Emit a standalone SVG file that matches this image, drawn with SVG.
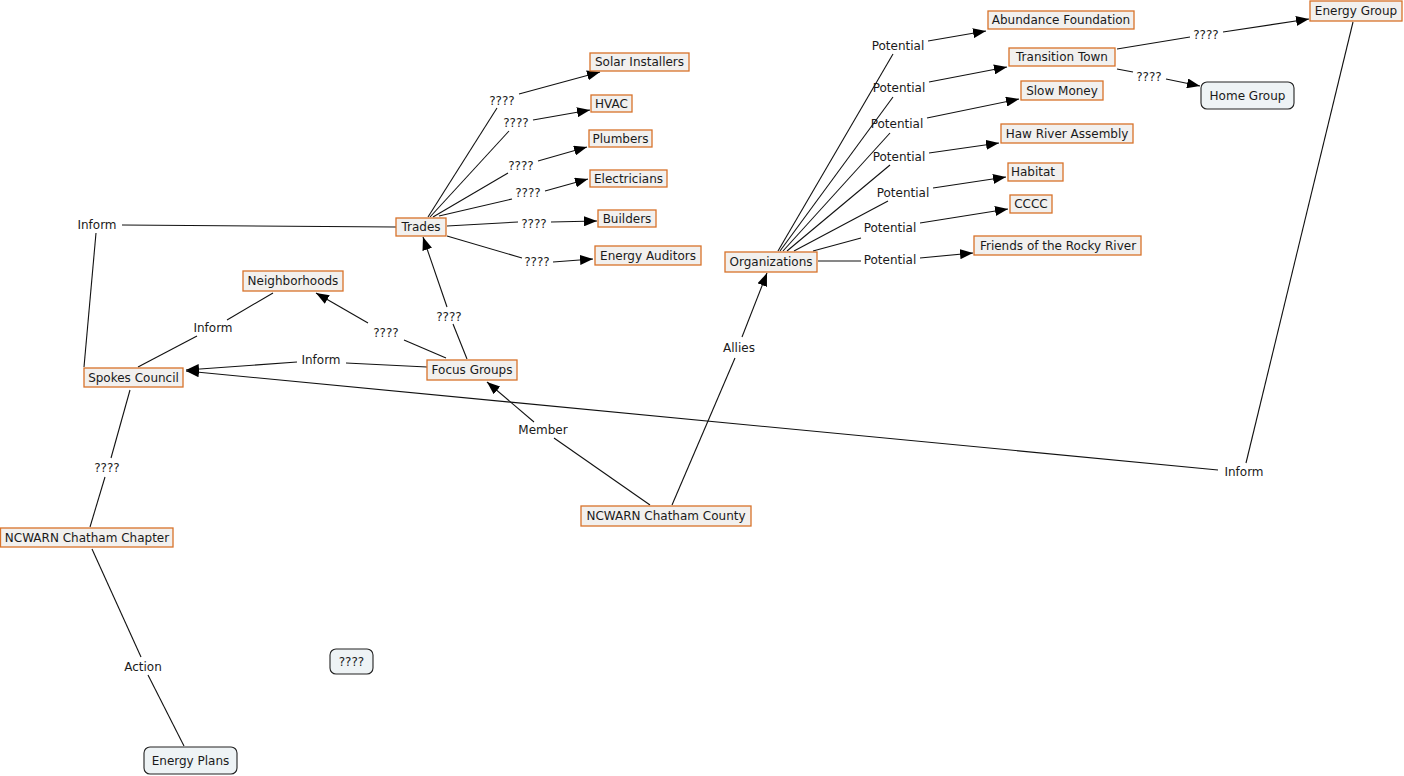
<svg xmlns="http://www.w3.org/2000/svg" width="1404" height="776" viewBox="0 0 1404 776">
<style>
text{font-family:"DejaVu Sans","Verdana",sans-serif;font-size:12px;fill:#1a1a1a;text-anchor:middle}
.n rect{fill:#f2f0ee;stroke:#d8722a;stroke-width:1.3}
.r rect{fill:#eef3f5;stroke:#222;stroke-width:1.1}
.c line{stroke:#111;stroke-width:1.1}
.a{marker-end:url(#ah)}
</style>
<defs>
<marker id="ah" markerUnits="userSpaceOnUse" markerWidth="14" markerHeight="10" refX="13" refY="5" orient="auto">
<path d="M0,0 L13,5 L0,10 Z" fill="#000"/>
</marker>
</defs>
<rect width="1404" height="776" fill="#fff"/>
<g id="connectors" class="c">
<!-- Trades edges -->
<line x1="428" y1="217" x2="497" y2="108"/><line class="a" x1="519" y1="94" x2="600" y2="72"/>
<line x1="430" y1="217" x2="509" y2="131"/><line class="a" x1="533" y1="120" x2="590" y2="110"/>
<line x1="433" y1="217" x2="508" y2="173"/><line class="a" x1="538" y1="161" x2="587" y2="147"/>
<line x1="439" y1="216" x2="512" y2="199"/><line class="a" x1="545" y1="191" x2="588" y2="179"/>
<line x1="447" y1="226" x2="518" y2="222"/><line class="a" x1="551" y1="222" x2="597" y2="221"/>
<line x1="447" y1="236" x2="522" y2="258"/><line class="a" x1="553" y1="262" x2="593" y2="259"/>
<!-- Trades - Inform - Spokes -->
<line x1="396" y1="227" x2="122" y2="225"/><line x1="96" y1="233" x2="84" y2="367"/>
<!-- Neighborhoods - Inform - Spokes -->
<line x1="273" y1="293" x2="227" y2="320"/><line x1="197" y1="336" x2="138" y2="367"/>
<!-- Focus -> Neighborhoods -->
<line x1="446" y1="358" x2="404" y2="340"/><line class="a" x1="368" y1="323" x2="316" y2="293"/>
<!-- Focus -> Trades -->
<line x1="467" y1="359" x2="453" y2="324"/><line class="a" x1="447" y1="307" x2="423" y2="237"/>
<!-- Focus -> Spokes -->
<line x1="427" y1="367" x2="346" y2="363"/><line class="a" x1="297" y1="362" x2="186" y2="370"/>
<!-- Energy Group -> Spokes -->
<line x1="1353" y1="22" x2="1246" y2="463"/><line class="a" x1="1218" y1="470" x2="186" y2="371"/>
<!-- Spokes - Chapter -->
<line x1="130" y1="390" x2="111" y2="458"/><line x1="105" y1="477" x2="90" y2="527"/>
<!-- Chapter - Action - Energy Plans -->
<line x1="92" y1="549" x2="141" y2="657"/><line x1="148" y1="675" x2="184" y2="746"/>
<!-- County -> Focus (Member) -->
<line x1="650" y1="505" x2="554" y2="438"/><line class="a" x1="534" y1="422" x2="487" y2="382"/>
<!-- County -> Organizations (Allies) -->
<line x1="672" y1="505" x2="735" y2="358"/><line class="a" x1="742" y1="337" x2="767" y2="273"/>
<!-- Organizations edges -->
<line x1="778" y1="251" x2="893" y2="54"/><line class="a" x1="928" y1="41" x2="986" y2="31"/>
<line x1="780" y1="251" x2="893" y2="97"/><line class="a" x1="929" y1="82" x2="1007" y2="67"/>
<line x1="783" y1="251" x2="890" y2="133"/><line class="a" x1="927" y1="118" x2="1019" y2="99"/>
<line x1="787" y1="251" x2="890" y2="165"/><line class="a" x1="929" y1="153" x2="999" y2="143"/>
<line x1="794" y1="251" x2="888" y2="201"/><line class="a" x1="933" y1="188" x2="1006" y2="177"/>
<line x1="813" y1="251" x2="861" y2="238"/><line class="a" x1="920" y1="223" x2="1008" y2="209"/>
<line x1="818" y1="261" x2="861" y2="261"/><line class="a" x1="920" y1="258" x2="973" y2="253"/>
<!-- Transition Town edges -->
<line x1="1117" y1="49" x2="1190" y2="37"/><line class="a" x1="1223" y1="32" x2="1309" y2="19"/>
<line x1="1117" y1="69" x2="1133" y2="72"/><line class="a" x1="1166" y1="79" x2="1200" y2="86"/>
</g>
<g id="labels">
<text x="502" y="105">????</text>
<text x="516" y="127">????</text>
<text x="521" y="170">????</text>
<text x="528" y="197">????</text>
<text x="534" y="228">????</text>
<text x="537" y="266">????</text>
<text x="97" y="229">Inform</text>
<text x="213" y="332">Inform</text>
<text x="386" y="337">????</text>
<text x="449" y="321">????</text>
<text x="321" y="364">Inform</text>
<text x="1244" y="476">Inform</text>
<text x="107" y="472">????</text>
<text x="143" y="671">Action</text>
<text x="543" y="434">Member</text>
<text x="739" y="352">Allies</text>
<text x="898" y="50">Potential</text>
<text x="899" y="92">Potential</text>
<text x="897" y="128">Potential</text>
<text x="899" y="161">Potential</text>
<text x="903" y="197">Potential</text>
<text x="890" y="232">Potential</text>
<text x="890" y="264">Potential</text>
<text x="1206" y="39">????</text>
<text x="1149" y="81">????</text>
</g>
<g id="n-abundance" class="n"><rect x="988" y="11" width="146" height="18"/><text x="1061" y="24">Abundance Foundation</text></g>
<g id="n-transition" class="n"><rect x="1009" y="48" width="106" height="18"/><text x="1062" y="61">Transition Town</text></g>
<g id="n-slowmoney" class="n"><rect x="1021" y="81" width="82" height="19"/><text x="1062" y="94.5">Slow Money</text></g>
<g id="n-haw" class="n"><rect x="1001" y="124" width="132" height="19"/><text x="1067" y="137.5">Haw River Assembly</text></g>
<g id="n-habitat" class="n"><rect x="1008" y="163" width="55" height="18"/><text x="1033" y="176">Habitat</text></g>
<g id="n-cccc" class="n"><rect x="1010" y="195" width="42" height="18"/><text x="1031" y="208">CCCC</text></g>
<g id="n-friends" class="n"><rect x="974" y="236" width="167" height="19"/><text x="1058" y="249.5">Friends of the Rocky River</text></g>
<g id="n-organizations" class="n"><rect x="725" y="252" width="92" height="20"/><text x="771" y="266">Organizations</text></g>
<g id="n-energygroup" class="n"><rect x="1310" y="1" width="92" height="20"/><text x="1356" y="15">Energy Group</text></g>
<g id="n-homegroup" class="r"><rect x="1201" y="82" width="93" height="27" rx="6"/><text x="1247.5" y="99.5">Home Group</text></g>
<g id="n-solar" class="n"><rect x="590" y="53" width="99" height="18"/><text x="639.5" y="66">Solar Installers</text></g>
<g id="n-hvac" class="n"><rect x="591" y="95" width="41" height="17"/><text x="611.5" y="107.5">HVAC</text></g>
<g id="n-plumbers" class="n"><rect x="589" y="130" width="63" height="17"/><text x="620.5" y="142.5">Plumbers</text></g>
<g id="n-electricians" class="n"><rect x="590" y="170" width="77" height="17"/><text x="628.5" y="182.5">Electricians</text></g>
<g id="n-builders" class="n"><rect x="598" y="210" width="58" height="17"/><text x="627" y="222.5">Builders</text></g>
<g id="n-auditors" class="n"><rect x="595" y="246" width="106" height="19"/><text x="648" y="259.5">Energy Auditors</text></g>
<g id="n-trades" class="n"><rect x="396" y="218" width="50" height="18"/><text x="421" y="231">Trades</text></g>
<g id="n-neighborhoods" class="n"><rect x="243" y="271" width="100" height="20"/><text x="293" y="285">Neighborhoods</text></g>
<g id="n-spokes" class="n"><rect x="84" y="368" width="99" height="19"/><text x="133.5" y="381.5">Spokes Council</text></g>
<g id="n-focus" class="n"><rect x="427" y="360" width="90" height="20"/><text x="472" y="374">Focus Groups</text></g>
<g id="n-chapter" class="n"><rect x="0.5" y="528" width="172.5" height="19"/><text x="87" y="541.5">NCWARN Chatham Chapter</text></g>
<g id="n-county" class="n"><rect x="581" y="506" width="170" height="20"/><text x="666" y="520">NCWARN Chatham County</text></g>
<g id="n-energyplans" class="r"><rect x="144" y="747" width="93" height="27" rx="6"/><text x="190.5" y="764.5">Energy Plans</text></g>
<g id="n-unknown" class="r"><rect x="330" y="649" width="43" height="25" rx="6"/><text x="351.5" y="665.5">????</text></g>
</svg>
